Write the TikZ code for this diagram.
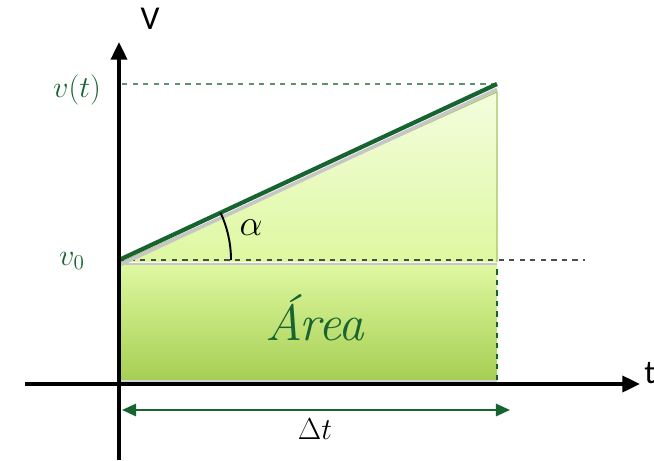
\documentclass[tikz,border=0pt]{standalone}
\usepackage{fontspec}
\newfontfamily\calibri{Carlito}
\usetikzlibrary{arrows.meta}
\definecolor{verdeoscuro}{RGB}{24,100,48}
\definecolor{verdeclaro}{RGB}{222,248,160}
\definecolor{verdemedio}{RGB}{166,206,82}
\definecolor{verdepalido}{RGB}{243,253,222}
\definecolor{verdeborde}{RGB}{160,200,90}
\begin{document}
\begin{tikzpicture}
  \tikzset{
    eje/.style={line width=2.2pt, -{Triangle[length=10pt,width=9pt]}},
    recta/.style={line width=2.4pt, draw=verdeoscuro},
    sombra/.style={line width=2pt, draw=gray!45},
    guia/.style={dashed, line width=0.8pt},
    flecha/.style={line width=1.2pt, draw=verdeoscuro, {Triangle[length=8pt,width=7pt]}-{Triangle[length=8pt,width=7pt]}},
    etiqueta/.style={text=verdeoscuro, font=\fontsize{18}{21}\selectfont}
  }

  % Caja de la figura
  \useasboundingbox (0,0) rectangle (13.08,9.2);

  % Puntos principales
  \coordinate (O) at (2.38,1.52);
  \coordinate (ybot) at (2.38,0);
  \coordinate (ytop) at (2.38,8.36);
  \coordinate (xleft) at (0.5,1.52);
  \coordinate (xright) at (12.8,1.52);
  \coordinate (v0) at (2.38,4.0);
  \coordinate (vt) at (9.94,7.52);
  \coordinate (vtleft) at (2.44,7.52);
  \coordinate (v0right) at (11.7,4.0);

  % Área del rectángulo
  \shade[top color=verdeclaro, bottom color=verdemedio] (2.42,1.58) rectangle (9.94,3.9);
  \draw[sombra, line width=1.5pt] (2.42,3.92) -- (9.94,3.92);
  \draw[gray!35, line width=1.2pt] (2.42,1.58) -- (9.94,1.58);
  \draw[verdeoscuro, dashed, line width=0.6pt] (9.94,1.6) -- (9.94,3.9);

  % Triángulo
  \shade[top color=verdepalido, bottom color=verdeclaro] (2.42,3.96) -- (9.94,7.36) -- (9.94,3.96) -- cycle;
  \draw[verdeborde, line width=0.6pt] (2.42,3.96) -- (9.94,7.36) -- (9.94,3.96);

  % Líneas guía
  \draw[guia, draw=verdeoscuro!70] (vtleft) -- (vt);
  \draw[guia, draw=black!70] (v0) -- (v0right);

  % Recta v(t)
  \draw[sombra] ([yshift=-3pt]v0) -- ([yshift=-3pt]vt);
  \draw[recta] (v0) -- (vt);

  % Ángulo
  \draw[line width=1.1pt] ([shift={(0:2.24)}]v0) arc (0:25:2.24);
  \node (alfa) at (5.02,4.64) {\fontsize{21}{24}\selectfont$\alpha$};

  % Ejes
  \draw[eje] (ybot) -- (ytop);
  \draw[eje] (xleft) -- (xright);
  \node (ejeV) at (3.0,8.82) {\calibri\fontsize{19}{22}\selectfont V};
  \node (ejet) at (13.0,1.74) {\calibri\fontsize{19}{22}\selectfont t};

  % Etiquetas
  \node[etiqueta] (lvt) at (1.54,7.4) {$v(t)$};
  \node[etiqueta] (lv0) at (1.44,3.98) {$v_0$};
  \node[text=verdeoscuro, font=\fontsize{29}{33}\selectfont] (area) at (6.3,2.84) {\textit{Área}};

  % Intervalo de tiempo
  \coordinate (dtizq) at (2.44,1.0);
  \coordinate (dtder) at (10.2,1.0);
  \draw[flecha] (dtizq) -- (dtder);
  \node (dt) at (6.3,0.62) {\fontsize{16}{19}\selectfont$\Delta t$};
\end{tikzpicture}
\end{document}
